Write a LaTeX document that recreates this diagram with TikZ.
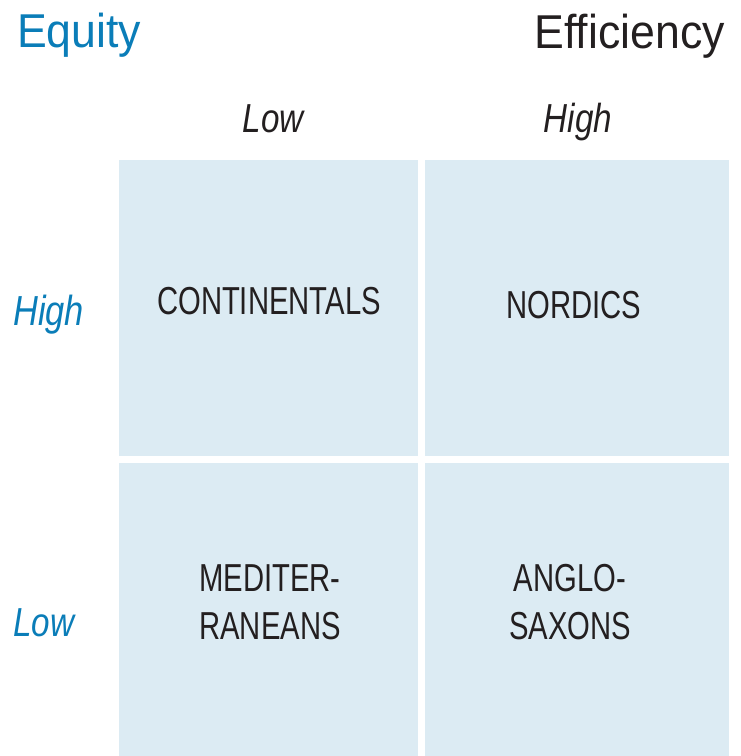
\documentclass[tikz,border=0pt]{standalone}
\usepackage{fontspec}
\setmainfont{Liberation Sans}
\newfontfamily\titlefont[FakeStretch=0.94]{Liberation Sans}
\newfontfamily\headfont[FakeStretch=0.82]{Liberation Sans}
\newfontfamily\cellfont[FakeStretch=0.75]{Liberation Sans}
\definecolor{cellblue}{HTML}{DCEBF3}
\definecolor{axisblue}{HTML}{0A7DB8}
\definecolor{ink}{HTML}{231F20}
\begin{document}
\begin{tikzpicture}[x=1pt,y=-1pt,
  cell/.style={fill=cellblue},
  title/.style={inner sep=0pt,font=\titlefont\fontsize{47.5}{50}\selectfont},
  colhead/.style={inner sep=0pt,text=ink,font=\headfont\itshape\fontsize{40.5}{44}\selectfont,anchor=base},
  rowhead/.style={inner sep=0pt,text=axisblue,font=\headfont\itshape\fontsize{42}{44}\selectfont,anchor=base west},
  celltext/.style={inner sep=0pt,text=ink,align=center,font=\cellfont\fontsize{39}{48}\selectfont}
]
\useasboundingbox (0,0) rectangle (741,756);
\fill[white] (0,0) rectangle (741,756);
% cells
\fill[cell] (119,160) rectangle (418,456) coordinate (tl);
\fill[cell] (425,160) rectangle (729,456) coordinate (tr);
\fill[cell] (119,463) rectangle (418,756) coordinate (bl);
\fill[cell] (425,463) rectangle (729,756) coordinate (br);
% titles
\node[title,text=axisblue,anchor=base west] (equity) at (17,47) {Equity};
\node[title,text=ink,anchor=base east] (efficiency) at (725,48) {Efficiency};
% column headers
\node[colhead] (collow) at (273,132) {Low};
\node[colhead] (colhigh) at (578,132) {High};
% row headers
\node[rowhead] (rowhigh) at (13,325) {High};
\node[rowhead,font=\headfont\itshape\fontsize{40.5}{44}\selectfont] (rowlow) at (13,636) {Low};
% cell labels
\node[celltext,anchor=base] (cont) at (269,314) {CONTINENTALS};
\node[celltext,anchor=base] (nord) at (574,318) {NORDICS};
\node[celltext,anchor=north] (medi) at (270,564) {MEDITER-\\RANEANS};
\node[celltext,anchor=north] (anglo) at (570,564) {ANGLO-\\SAXONS};
\end{tikzpicture}
\end{document}
